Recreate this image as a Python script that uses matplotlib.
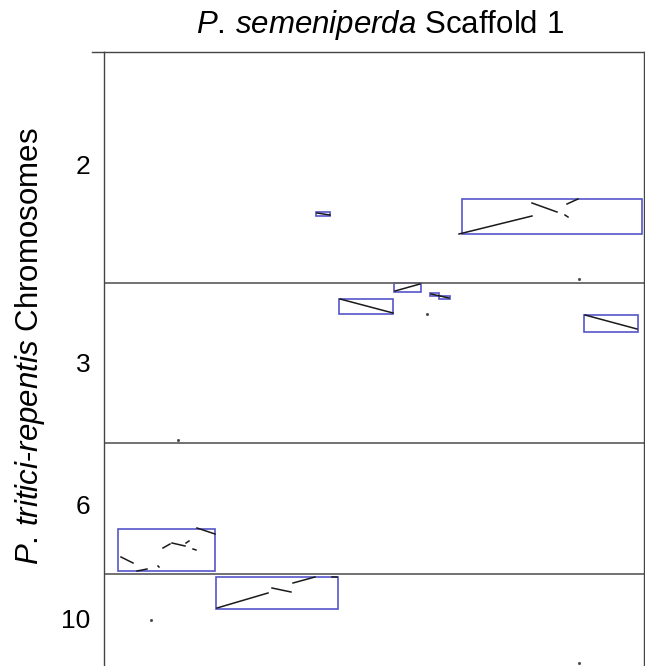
import matplotlib
matplotlib.use("Agg")
import matplotlib.pyplot as plt
from matplotlib.patches import Rectangle

plt.rcParams['font.family'] = ['Liberation Sans', 'DejaVu Sans']
plt.rcParams['mathtext.fontset'] = 'custom'
plt.rcParams['mathtext.rm'] = 'Liberation Sans'
plt.rcParams['mathtext.it'] = 'Liberation Sans:italic'

# Chromosome layout (y runs top -> bottom)
chrom_labels = ["2", "3", "6", "10"]
chrom_centers = [113, 311, 453, 566]
chrom_bounds = [231, 391, 522]
x_len = 540
y_len = 614

# Synteny blocks: x0, x1, y0, y1
blk_x0 = [212, 358, 290, 235, 326, 335, 480, 14, 112]
blk_x1 = [226, 538, 317, 289, 335, 346, 534, 111, 234]
blk_y0 = [160, 147, 231, 247, 241, 244, 263, 477, 525]
blk_y1 = [164, 182, 240, 262, 244, 247, 280, 519, 557]

# Alignment segments: (x0, y0, x1, y1)
segs = [
    (355, 182, 428, 164), (428, 151, 453, 160), (461, 163, 464, 165),
    (463, 152, 474, 147), (213, 161, 226, 163), (291, 239, 316, 232),
    (236, 247, 289, 261), (327, 242, 345, 246), (481, 263, 533, 277),
    (17, 505, 29, 511), (33, 519, 43, 517), (54, 514, 55, 515),
    (59, 496, 66, 492), (68, 491, 81, 494), (82, 491, 85, 489),
    (89, 497, 92, 498), (93, 476, 111, 482),
    (113, 556, 164, 541), (168, 536, 187, 540), (189, 531, 211, 525),
    (228, 525, 233, 525),
]
dots_x = [323, 475, 74, 47, 475]
dots_y = [262, 227, 388, 568, 611]

fig = plt.figure(figsize=(6.45, 6.66), dpi=100)
ax = fig.add_axes([104 / 645, 0, 540 / 645, 614 / 666])
ax.set_xlim(0, x_len)
ax.set_ylim(y_len, 0)

frame_c = "#444444"
for s in ["left", "right", "top"]:
    ax.spines[s].set_color(frame_c)
    ax.spines[s].set_linewidth(1.0)
ax.spines["bottom"].set_visible(False)
# top line runs a little past the left edge
ax.plot([-12, 0], [0, 0], color=frame_c, lw=1.0, clip_on=False)

for b in chrom_bounds:
    ax.axhline(b, color="#666666", lw=1.3)

for x0, x1, y0, y1 in zip(blk_x0, blk_x1, blk_y0, blk_y1):
    ax.add_patch(Rectangle((x0, y0), x1 - x0, y1 - y0, fill=False,
                           edgecolor="#5555cc", lw=1.2))

for x0, y0, x1, y1 in segs:
    ax.plot([x0, x1], [y0, y1], color="#1a1a1a", lw=1.1)
ax.plot(dots_x, dots_y, 's', color="#444444", ms=1.0)

ax.set_xticks([])
ax.set_yticks(chrom_centers)
ax.set_yticklabels(chrom_labels, fontsize=19)
ax.tick_params(axis='y', length=0, pad=10)

fig.text(380 / 645, 1 - 25 / 666, r"$\mathit{P.\,semeniperda}$ Scaffold 1",
         ha="center", va="center", fontsize=22.5)
fig.text(30 / 645, 1 - 346 / 666, r"$\mathit{P.\,tritici}$-$\mathit{repentis}$ Chromosomes",
         ha="center", va="center", rotation=90, fontsize=22.5)

fig.savefig("out.png", dpi=100)
